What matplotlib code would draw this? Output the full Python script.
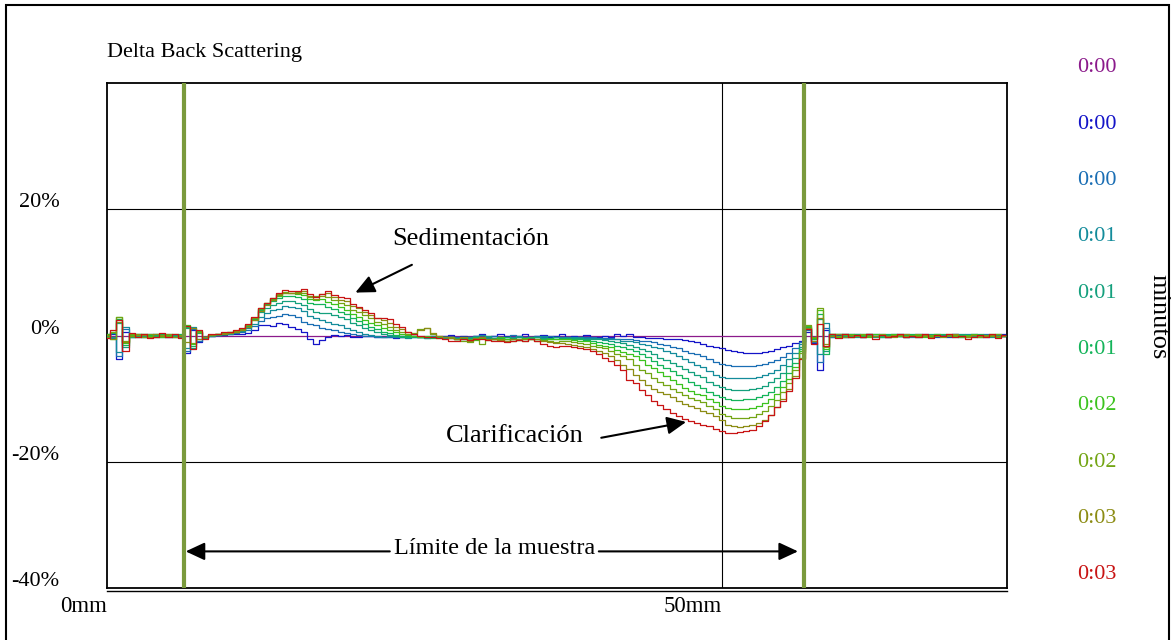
import numpy as np
import matplotlib.pyplot as plt
from matplotlib.transforms import blended_transform_factory
from matplotlib.patches import Rectangle

plt.rcParams['font.family'] = ['Liberation Serif', 'DejaVu Serif']

# Delta back scattering profiles (%) along the tube height, one every 0.5 mm
pos_mm = np.arange(147) * 0.5

ref_0 = [0.0] * 147

blue_0 = [
    -0.2, 0.3, -3.8, 0.6, -0.3, 0.1, -0.2, 0.2, -0.1, 0.0, -0.3, 0.1, -0.2,
    -2.8, 0.9, -1.0, -0.4,
    0.0, 0.1, 0.1, 0.2, 0.2, 0.3, 0.4, 0.8, 1.7, 1.6, 1.5, 2.0, 1.8, 1.3, 1.1, 0.5, -0.6, -1.3, -0.7, -0.2,
    0.1, 0.0, 0.1, -0.2, -0.3, 0.0, -0.1, -0.2, -0.3, -0.2, -0.4, -0.3, -0.2, -0.1, -0.3, -0.2, -0.1, -0.2, -0.1,
    0.1, -0.2, 0.0, -0.3, -0.1, 0.2, -0.2, -0.1, 0.3, 0.0, -0.2, -0.1, 0.2, -0.3, -0.1, 0.1, -0.2, -0.1, 0.2, -0.2,
    -0.1, -0.3, 0.1, -0.2, -0.3, -0.1, -0.2, 0.2, -0.1, 0.3, -0.2, -0.3, -0.4, -0.4,
    -0.4, -0.5, -0.5, -0.6, -0.7, -0.9, -1.0, -1.3, -1.6, -1.9, -2.0, -2.3, -2.5, -2.6, -2.7, -2.7, -2.8, -2.6,
    -2.4, -2.2, -1.9, -1.6, -1.2, -0.8,
    0.6, -1.2, -5.5, 0.8, -0.2, 0.1, -0.3, 0.2, 0.0, -0.2, 0.3, -0.1, 0.1, -0.3, 0.2, 0.0, -0.2, 0.1, 0.3, -0.1,
    0.0, -0.2, 0.1, -0.3, 0.2, 0.1, -0.1, 0.2, 0.0, -0.2, 0.1, -0.1, 0.2,
]

blue_1 = [
    0.1, -0.4, -3.2, 1.0, 0.2, -0.2, 0.1, -0.3, 0.2, -0.1, 0.1, -0.2, 0.0,
    -2.4, 1.1, -0.8, -0.3,
    0.0, 0.1, 0.2, 0.3, 0.4, 0.5, 0.9, 1.5, 2.3, 2.8, 3.0, 3.1, 3.4, 3.3, 2.9, 2.2, 1.9, 1.6, 1.2, 1.0,
    0.8, 0.6, 0.4, 0.3, 0.1, 0.0, -0.1, -0.2, -0.3, -0.2, -0.3, -0.1, -0.2, -0.3, -0.2, -0.4, -0.3, -0.2, -0.3,
    -0.4, -0.2, -0.5, -0.3, 0.0, -0.2, -0.4, -0.1, -0.3, -0.2, 0.1, -0.3, -0.2, -0.4, 0.0, -0.3, -0.1, -0.2, -0.3, -0.2,
    -0.3, -0.2, -0.3, -0.3, -0.4, -0.4, -0.4, -0.5, -0.5,
    -0.6, -0.7, -0.8, -0.9, -1.1, -1.3, -1.5, -1.8, -2.0, -2.4, -2.7, -3.0, -3.3, -3.8, -4.2, -4.5, -4.7, -4.9,
    -4.9, -4.9, -4.9, -4.7, -4.5, -4.2, -3.9, -3.4, -2.8, -2.0, -1.1,
    0.8, -1.0, -4.2, 1.2, 0.1, -0.2, 0.2, -0.1, 0.3, -0.3, 0.0, 0.2, -0.2, 0.1, -0.1, 0.2, 0.0, -0.3, 0.1, 0.2,
    -0.2, 0.0, 0.1, -0.1, 0.3, -0.2, 0.0, 0.1, -0.2, 0.2, -0.1, 0.0, -0.1,
]

teal_1 = [
    -0.3, 0.5, -2.6, 1.4, -0.2, 0.2, -0.1, 0.1, -0.3, 0.2, -0.1, 0.1, -0.3,
    -2.0, 1.3, -0.6, -0.4,
    0.0, 0.1, 0.2, 0.3, 0.5, 0.7, 1.2, 1.9, 3.0, 3.6, 4.0, 4.2, 4.6, 4.5, 4.3, 3.9, 3.1, 2.8, 2.4, 2.1,
    1.9, 1.6, 1.2, 0.8, 0.6, 0.3, 0.1, 0.0, -0.2, -0.1, -0.3, -0.2, -0.4, -0.3, -0.2, -0.3, -0.1, -0.3, -0.4,
    -0.3, -0.5, -0.2, -0.4, -0.1, 0.1, -0.3, -0.4, -0.2, -0.5, -0.3, 0.0, -0.4, -0.2, -0.3, -0.1, -0.4, -0.2, -0.3, -0.3,
    -0.3, -0.3, -0.4, -0.4, -0.4, -0.5, -0.5, -0.6, -0.8, -0.9,
    -1.1, -1.3, -1.5, -1.8, -2.0, -2.4, -2.8, -3.2, -3.7, -4.2, -4.6, -5.0, -5.6, -6.2, -6.5, -6.7, -6.8, -6.8,
    -6.8, -6.8, -6.6, -6.3, -5.9, -5.4, -4.7, -3.8, -2.7, -1.4,
    1.0, -0.8, -3.0, 2.0, -0.3, 0.2, -0.1, 0.1, -0.2, 0.2, -0.1, 0.0, 0.2, -0.2, 0.1, -0.1, 0.3, 0.0, -0.2, 0.1,
    0.0, 0.2, -0.1, 0.1, -0.2, 0.0, 0.2, -0.1, 0.1, 0.0, -0.2, 0.1, 0.0,
]

teal_2 = [
    0.2, -0.3, 2.0, -1.8, 0.3, -0.1, 0.2, -0.2, 0.1, -0.2, 0.2, -0.1, 0.1,
    1.2, -2.0, 0.5, -0.3,
    0.1, 0.1, 0.2, 0.4, 0.6, 0.8, 1.4, 2.5, 3.7, 4.3, 4.8, 5.1, 5.5, 5.4, 5.2, 4.9, 4.2, 3.8, 3.5, 3.6,
    3.3, 2.9, 2.6, 2.0, 1.6, 1.2, 0.9, 0.6, 0.3, 0.1, 0.0, -0.2, -0.1, -0.3, -0.2, -0.4, -0.3, -0.2, -0.3,
    -0.2, -0.4, -0.6, -0.3, -0.5, -0.2, -0.1, -0.4, -0.6, -0.3, -0.4, -0.2, -0.5, -0.3, -0.2, -0.4, -0.5, -0.3, -0.4, -0.4,
    -0.4, -0.4, -0.5, -0.5, -0.6, -0.7, -0.9, -1.0, -1.2, -1.5,
    -1.8, -2.1, -2.5, -3.0, -3.5, -3.9, -4.4, -4.8, -5.3, -5.8, -6.3, -6.6, -7.3, -7.8, -8.2, -8.5, -8.7, -8.7,
    -8.6, -8.5, -8.3, -8.0, -7.4, -6.8, -5.9, -4.9, -3.5, -1.8,
    1.2, -0.6, 2.6, -2.5, 0.2, -0.1, 0.2, -0.2, 0.1, 0.0, 0.2, -0.2, 0.0, 0.1, -0.1, 0.2, -0.2, 0.1, 0.0, -0.1,
    0.2, -0.1, 0.0, 0.1, -0.1, 0.2, -0.2, 0.0, 0.1, -0.1, 0.0, 0.2, -0.1,
]

green_1 = [
    -0.1, 0.4, 2.6, -1.5, -0.2, 0.3, -0.2, 0.1, -0.1, 0.3, -0.2, 0.0, 0.2,
    1.4, -1.6, 0.4, -0.2,
    0.1, 0.2, 0.3, 0.4, 0.6, 0.9, 1.5, 2.6, 4.1, 5.0, 5.5, 5.9, 6.3, 6.2, 6.1, 5.8, 5.2, 5.0, 5.0, 4.5,
    4.2, 3.7, 3.4, 2.7, 2.3, 1.8, 1.3, 1.0, 0.6, 0.4, 0.1, 0.0, -0.2, -0.1, -0.3, -0.2, -0.4, -0.3, -0.2,
    -0.3, -0.5, -0.4, -0.7, -0.3, -0.2, -0.5, -0.6, -0.4, -0.3, -0.5, -0.7, -0.4, -0.3, -0.6, -0.5, -0.4, -0.6, -0.5, -0.5,
    -0.6, -0.6, -0.7, -0.8, -1.0, -1.2, -1.4, -1.6, -1.8, -2.1,
    -2.5, -2.9, -3.4, -4.0, -4.7, -5.2, -5.7, -6.2, -6.8, -7.4, -7.9, -8.3, -8.9, -9.4, -9.8, -10.1, -10.2, -10.2,
    -10.1, -10.1, -9.8, -9.5, -8.9, -8.2, -7.2, -6.0, -4.3, -2.1,
    1.4, -0.5, 3.4, -3.0, 0.1, 0.2, -0.2, 0.0, 0.2, -0.1, 0.1, 0.0, -0.2, 0.2, 0.0, -0.1, 0.1, 0.2, -0.2, 0.0,
    0.1, -0.1, 0.2, 0.0, -0.1, 0.1, 0.0, -0.2, 0.2, 0.0, 0.1, -0.1, 0.0,
]

green_2 = [
    0.3, -0.5, 2.9, -1.2, 0.1, -0.3, 0.2, -0.1, 0.2, -0.3, 0.1, 0.2, -0.1,
    1.6, -1.4, 0.7, -0.3,
    0.1, 0.2, 0.3, 0.5, 0.7, 1.0, 1.6, 2.7, 4.2, 5.2, 5.8, 6.2, 6.7, 6.7, 6.6, 6.4, 5.8, 5.7, 5.8, 5.3,
    5.0, 4.5, 4.1, 3.4, 3.0, 2.5, 2.0, 1.6, 1.2, 0.9, 0.5, 0.3, 0.1, 0.0, -0.2, -0.1, -0.3, -0.4, -0.2,
    -0.4, -0.6, -0.3, -0.5, -0.7, -0.4, -0.6, -0.5, -0.3, -0.6, -0.8, -0.5, -0.4, -0.6, -0.5, -0.7, -0.6, -0.5, -0.6, -0.6,
    -0.7, -0.8, -0.9, -1.2, -1.5, -1.7, -1.9, -2.3, -2.6, -2.9,
    -3.3, -3.9, -4.6, -5.2, -5.8, -6.4, -7.1, -7.7, -8.3, -8.8, -9.2, -9.5, -10.0, -10.6, -11.2, -11.5, -11.6, -11.7,
    -11.6, -11.5, -11.1, -10.7, -10.1, -9.3, -8.1, -6.9, -5.0, -2.4,
    1.5, -0.4, 4.0, -2.2, 0.3, -0.2, 0.1, 0.2, -0.1, 0.1, -0.2, 0.2, 0.1, -0.1, 0.2, 0.0, -0.2, 0.1, 0.1, -0.2,
    0.0, 0.2, -0.1, 0.1, 0.0, -0.2, 0.1, 0.2, -0.1, 0.0, 0.2, -0.2, 0.1,
]

yellow_2 = [
    -0.2, 0.6, 3.0, -0.9, 0.2, 0.1, -0.3, 0.2, -0.2, 0.1, -0.1, -0.2, 0.1,
    1.5, -1.2, 0.6, -0.2,
    0.1, 0.2, 0.4, 0.5, 0.7, 1.1, 1.7, 2.8, 4.3, 5.2, 6.0, 6.5, 6.9, 6.8, 6.9, 6.8, 6.1, 6.2, 6.6, 6.1,
    5.7, 5.2, 4.8, 4.1, 3.8, 3.2, 2.7, 2.2, 1.9, 1.4, 0.9, 0.5, 0.3, 0.4, 1.1, 1.2, 0.3, -0.1, -0.2,
    -0.3, -0.5, -0.8, -1.0, -0.6, -1.4, -0.7, -0.5, -0.6, -0.8, -0.5, -0.7, -0.9, -0.6, -0.8, -0.7, -0.9, -1.0, -0.8, -0.9,
    -1.0, -1.2, -1.4, -1.7, -1.9, -2.0, -2.4, -2.9, -3.3, -3.8,
    -4.6, -5.4, -6.0, -6.7, -7.4, -7.9, -8.5, -8.9, -9.4, -9.9, -10.2, -10.6, -11.2, -11.7, -12.4, -12.8, -13.0, -13.1,
    -13.0, -12.9, -12.4, -11.9, -11.2, -10.2, -9.0, -7.5, -5.5, -2.8,
    1.6, -0.3, 4.4, -1.8, 0.2, 0.0, 0.2, -0.2, 0.1, 0.2, -0.1, 0.0, 0.2, -0.2, 0.1, 0.1, -0.1, 0.0, 0.2, -0.1,
    0.1, 0.0, -0.2, 0.2, 0.1, -0.1, 0.0, 0.1, -0.2, 0.1, 0.0, 0.2, -0.1,
]

olive_3 = [
    0.1, -0.6, 2.2, -1.0, -0.1, 0.2, 0.1, -0.2, 0.3, -0.1, 0.2, -0.3, 0.0,
    -1.0, 1.2, -0.6, -0.3,
    0.1, 0.2, 0.3, 0.4, 0.6, 0.9, 1.4, 2.4, 3.9, 4.8, 5.6, 6.4, 6.8, 6.7, 6.8, 7.0, 6.2, 5.8, 6.3, 6.8,
    6.1, 5.6, 5.4, 4.6, 4.3, 3.8, 3.3, 2.7, 2.4, 2.0, 1.4, 1.0, 0.6, 0.3, 0.8, 1.2, 0.4, -0.1, -0.3,
    -0.4, -0.5, -0.3, -0.8, -0.4, -0.3, -0.5, -0.6, -0.7, -0.8, -0.6, -0.5, -0.6, -0.5, -0.6, -0.9, -1.1, -1.2, -1.2, -1.4,
    -1.5, -1.6, -1.8, -2.1, -2.4, -2.8, -3.3, -3.9, -4.6, -5.3,
    -6.2, -7.0, -7.9, -8.5, -9.0, -9.3, -9.8, -10.3, -10.8, -11.2, -11.5, -11.9, -12.3, -12.8, -13.4, -14.1, -14.4, -14.5,
    -14.4, -14.2, -13.9, -13.4, -12.6, -11.4, -10.0, -8.4, -6.4, -3.5,
    1.2, -0.8, 2.8, -1.4, -0.1, 0.2, -0.2, 0.1, 0.0, -0.2, 0.2, -0.1, 0.1, 0.0, -0.2, 0.1, 0.2, -0.1, 0.0, 0.1,
    -0.2, 0.1, 0.0, -0.1, 0.2, 0.0, -0.2, 0.1, -0.1, 0.0, 0.1, -0.1, 0.0,
]

red_3 = [
    -0.4, 0.8, 2.4, -2.4, 0.4, -0.3, 0.3, -0.4, -0.2, 0.4, -0.3, 0.3, -0.4,
    1.5, -2.2, 0.8, -0.5,
    0.2, 0.3, 0.5, 0.6, 0.9, 1.2, 1.8, 2.9, 4.4, 5.2, 6.0, 6.8, 7.2, 7.0, 7.1, 7.4, 6.6, 6.1, 6.6, 7.0,
    6.4, 6.1, 5.9, 5.0, 4.5, 4.0, 3.5, 2.8, 2.8, 2.6, 1.8, 1.3, 0.6, 0.2, 0.0, -0.2, -0.3, -0.4, -0.6,
    -0.8, -0.8, -0.6, -0.7, -0.5, -0.5, -0.7, -0.9, -0.9, -1.1, -0.9, -0.7, -0.8, -0.6, -0.9, -1.3, -1.7, -1.8, -1.6, -1.7,
    -1.9, -2.0, -2.2, -2.4, -2.9, -3.6, -4.1, -4.7, -5.5, -7.0,
    -7.6, -8.6, -9.5, -10.3, -11.0, -11.7, -12.3, -12.8, -13.3, -13.6, -13.8, -14.1, -14.4, -14.8, -15.2, -15.4, -15.5, -15.3,
    -15.2, -14.9, -14.3, -13.5, -12.6, -11.3, -10.4, -8.8, -6.8, -3.8,
    1.0, -1.4, 1.8, -1.6, 0.3, -0.4, 0.2, -0.3, 0.1, -0.2, 0.3, -0.5, 0.1, -0.2, -0.1, 0.2, -0.3, 0.0, -0.2, 0.2,
    -0.4, 0.1, -0.1, 0.2, -0.3, 0.0, -0.6, -0.2, 0.1, -0.3, 0.2, -0.4, 0.1,
]

profiles = [ref_0, blue_0, blue_1, teal_1, teal_2, green_1, green_2, yellow_2, olive_3, red_3]
time_labels = ['0:00', '0:00', '0:00', '0:01', '0:01', '0:01', '0:02', '0:02', '0:03', '0:03']
colors = ['#8B1A8B', '#1414C8', '#1A6EB4', '#148C9B', '#14A07D',
          '#14B45A', '#3CC31E', '#73A514', '#8C8C14', '#C81414']

sample_limits = [6.3, 56.7]  # mm, bottom and top of the sample
y_ticks = [20, 0, -20, -40]
x_ticks = [0, 50]

W, H = 1172, 640
fig = plt.figure(figsize=(W / 100, H / 100), dpi=100)
ax = fig.add_axes([107 / W, 1 - 588 / H, 900 / W, 505 / H])

for vals, c in zip(profiles, colors):
    ax.plot(pos_mm, vals, color=c, lw=0.9, drawstyle='steps-mid', zorder=3)

for lim in sample_limits:
    ax.axvline(lim, color='#7A9A3C', lw=3, zorder=4)

ax.axhline(20, color='black', lw=0.8, zorder=1)
ax.axhline(-20, color='black', lw=0.8, zorder=1)
ax.axvline(50, color='black', lw=0.8, zorder=1)

ax.set_xlim(0, 73.2)
ax.set_ylim(-40, 40)
ax.set_xticks([])
ax.set_yticks([])
for s in ax.spines.values():
    s.set_linewidth(1.3)
# second rule just under the bottom frame
ax.plot([0, 1], [-0.006, -0.006], transform=ax.transAxes, color='black', lw=1.0, clip_on=False)

# axis labels written as plain texts
ytr = blended_transform_factory(ax.transAxes, ax.transData)
for v in y_ticks:
    ax.text(-0.053, v + 0.3, f'{v}%', transform=ytr, ha='right', va='baseline', fontsize=16)
xtr = blended_transform_factory(ax.transData, ax.transAxes)
for v in x_ticks:
    ax.text(v, -0.047, f'{v}mm', transform=xtr, ha='right', va='baseline', fontsize=16.5)

fig.text(107 / W, 1 - 52 / H, 'Delta Back Scattering', ha='left', va='center', fontsize=16)

# time legend on the right
for k, (lab, c) in enumerate(zip(time_labels, colors)):
    fig.text(1097 / W, 1 - (68 + 56.3 * k) / H, lab, color=c, ha='center', va='center', fontsize=16)
fig.text(1158 / W, 1 - 317 / H, 'minutos', rotation=270, ha='center', va='center', fontsize=19)

# annotations
head = dict(arrowstyle='-|>,head_length=0.58,head_width=0.27', mutation_scale=20,
            color='black', lw=1.5, shrinkA=0, shrinkB=0)
ax.text(29.6, 15.3, 'Sedimentación', ha='center', va='center', fontsize=19)
ax.annotate('', xy=(20.2, 6.8), xytext=(24.8, 11.2), arrowprops=head)
ax.text(33.2, -15.9, 'Clarificación', ha='center', va='center', fontsize=19)
ax.annotate('', xy=(47.1, -13.7), xytext=(40.2, -16.2), arrowprops=head)

ax.text(31.5, -33.7, 'Límite de la muestra', ha='center', va='center', fontsize=17.5)
ax.annotate('', xy=(6.4, -34.2), xytext=(23.0, -34.2), arrowprops=head)
ax.annotate('', xy=(56.2, -34.2), xytext=(40.0, -34.2), arrowprops=head)

# outer frame of the figure, open at the bottom edge
fig.patches.append(Rectangle((6 / W, -5 / H), 1163 / W, 640 / H, transform=fig.transFigure,
                             fill=False, edgecolor='black', lw=1.5))

fig.savefig('out.png', dpi=100)
